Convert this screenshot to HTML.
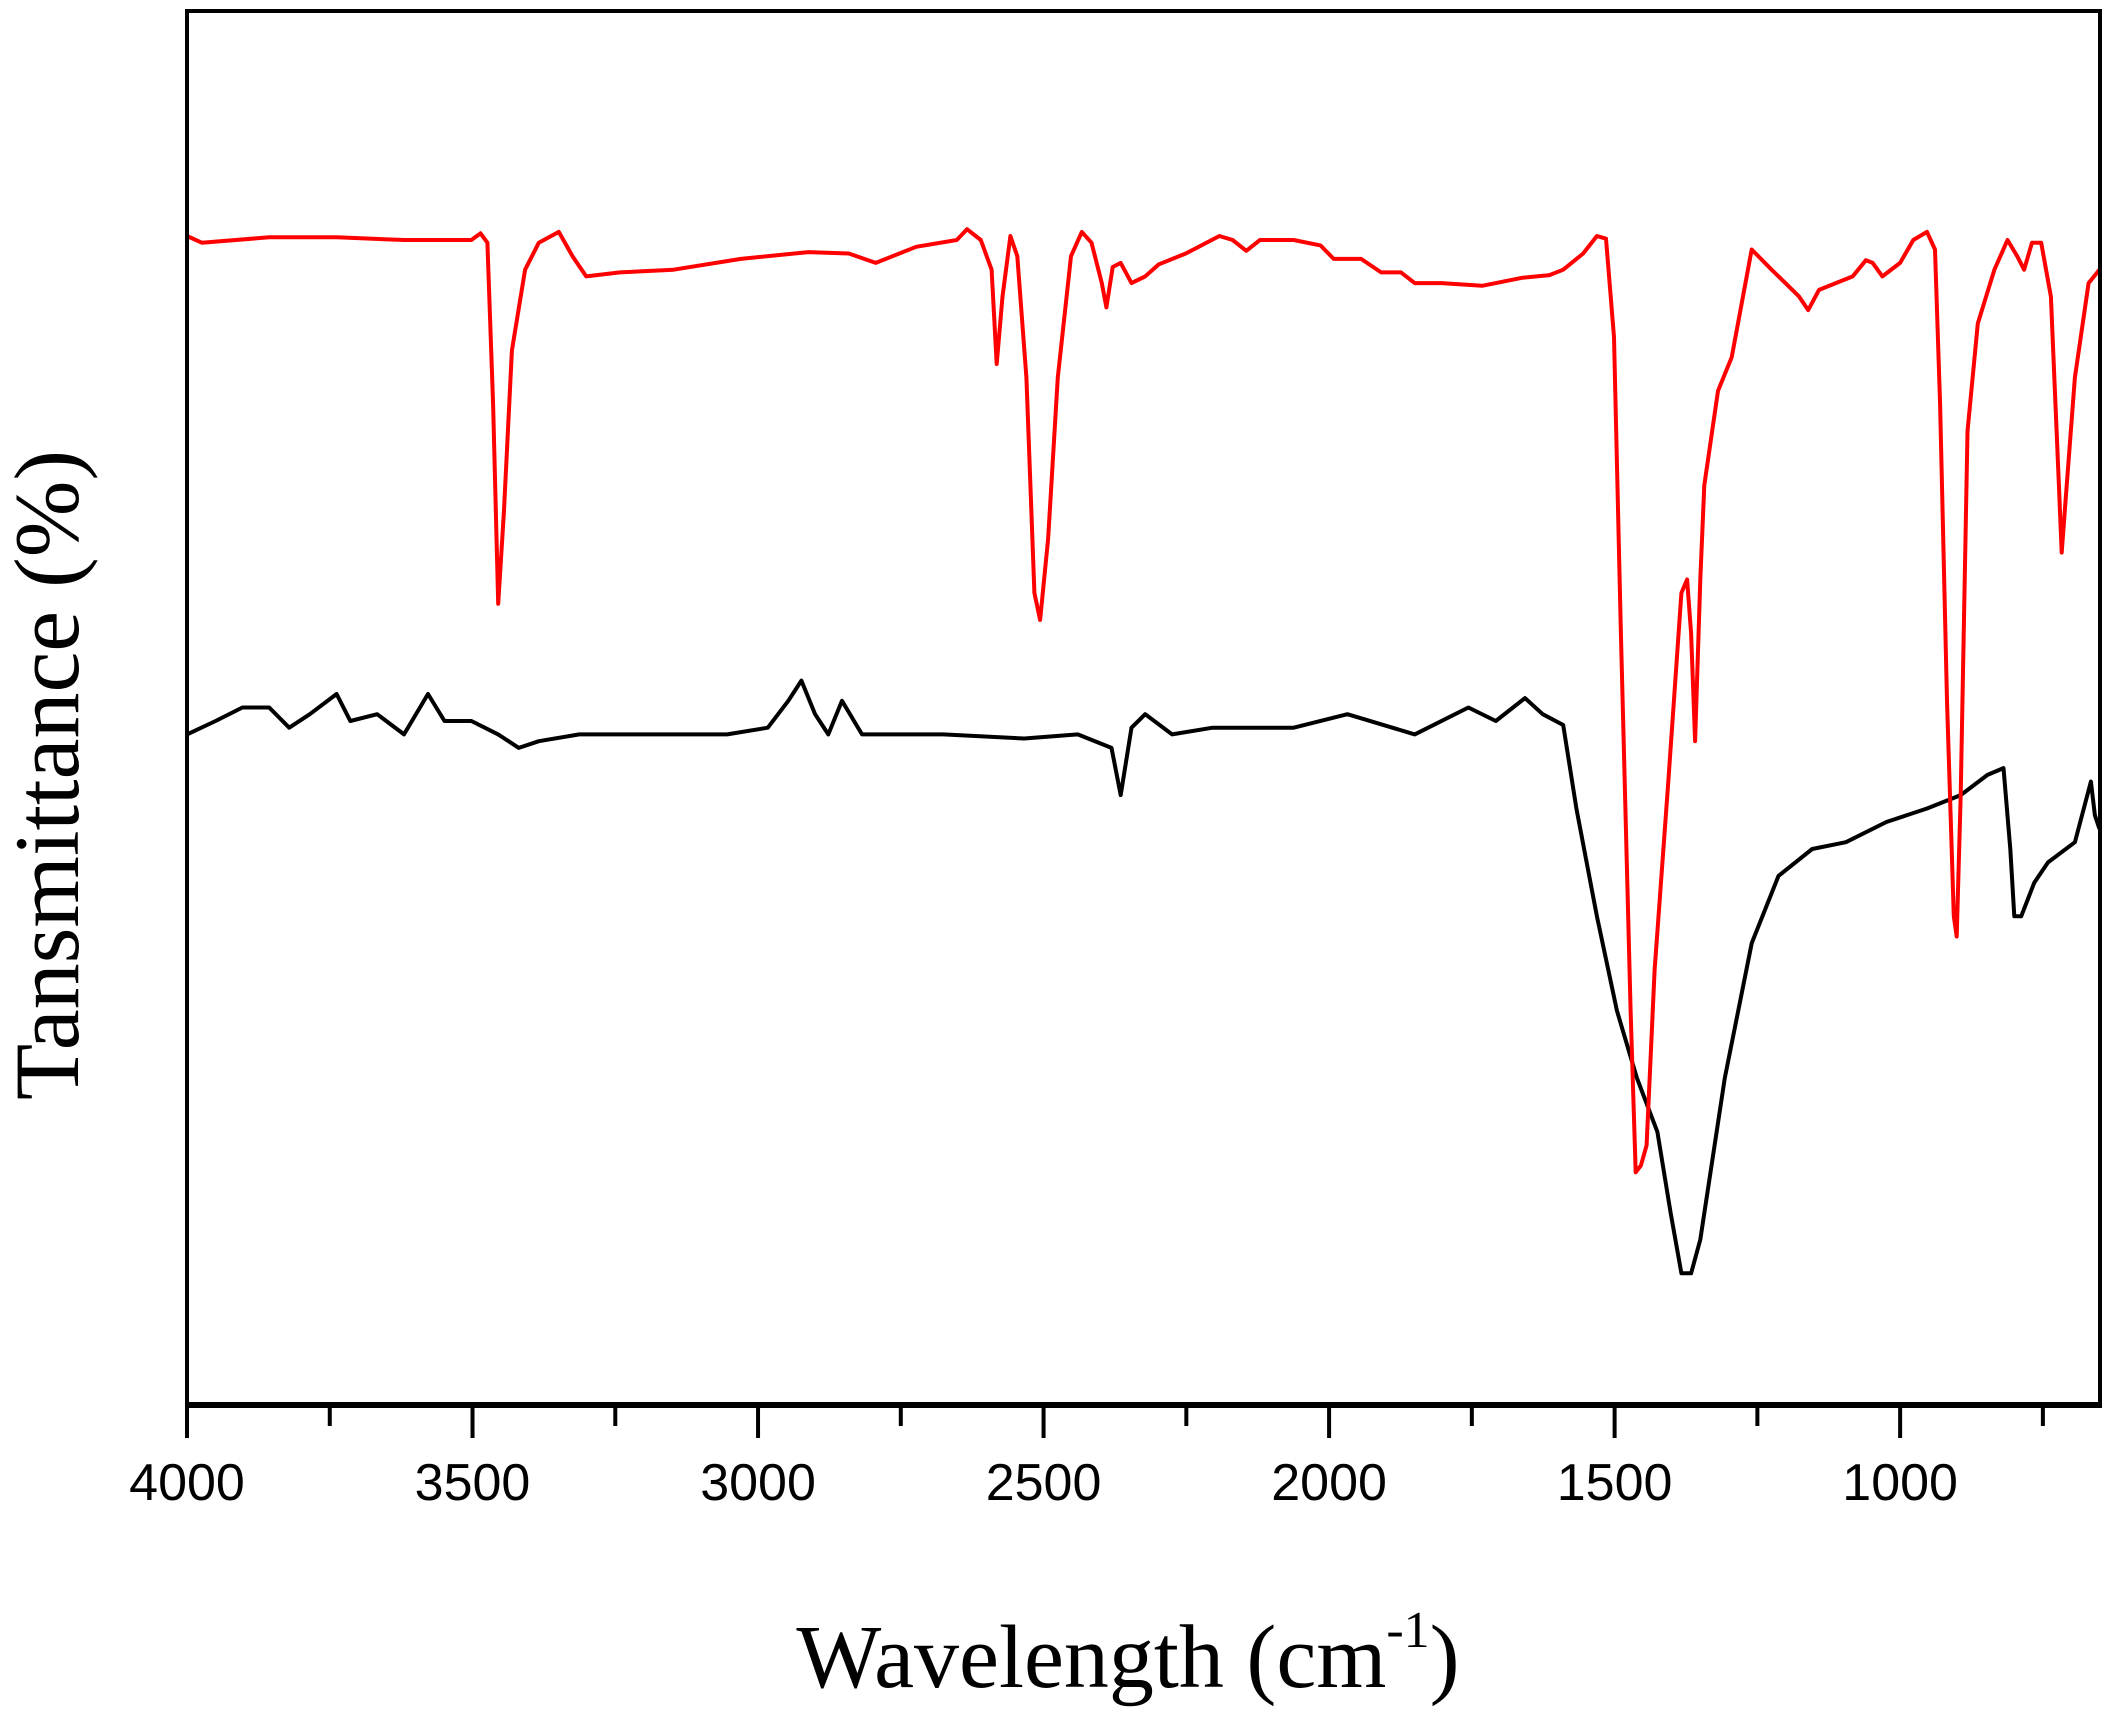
<!DOCTYPE html>
<html><head><meta charset="utf-8"><style>
html,body{margin:0;padding:0;background:#fff;}
svg{display:block;}
</style></head><body>
<svg id="chart" width="2113" height="1716" viewBox="0 0 2113 1716" xmlns="http://www.w3.org/2000/svg">
<rect x="0" y="0" width="2113" height="1716" fill="#fff"/>
<g id="series"></g>
<rect x="187" y="11" width="1913" height="1393" fill="none" stroke="#000" stroke-width="4"/>
<line x1="185" y1="1405" x2="2102" y2="1405" stroke="#000" stroke-width="6"/>
<g id="ticks"></g>
<text x="1128" y="1687" text-anchor="middle" font-family="'Liberation Serif', serif" font-size="90">Wavelength (cm<tspan font-size="52" dy="-40">-1</tspan><tspan dy="40">)</tspan></text>
<text transform="translate(78,775) rotate(-90)" text-anchor="middle" font-family="'Liberation Serif', serif" font-size="92">Tansmittance (%)</text>
</svg>
<script>
const tickValues = [4000,3500,3000,2500,2000,1500,1000];
const minorTicks = [3750,3250,2750,2250,1750,1250,750];
const redWn = [4000,3974,3856,3738,3620,3502,3486,3474,3464,3455,3445,3431,3408,3384,3349,3325,3301,3242,3148,3030,2912,2841,2794,2723,2652,2634,2610,2591,2582,2572,2558,2546,2530,2516,2506,2492,2475,2452,2433,2416,2398,2390,2379,2365,2346,2322,2298,2251,2192,2169,2145,2121,2062,2015,1992,1944,1909,1874,1850,1803,1732,1661,1614,1590,1555,1531,1515,1501,1489,1472,1463,1454,1444,1430,1406,1383,1373,1366,1359,1350,1343,1319,1295,1260,1225,1201,1177,1161,1142,1083,1060,1048,1031,1000,977,953,939,930,918,906,901,894,882,864,835,812,795,783,769,753,736,722,717,710,694,670,651];
const redT = [867,862,866,866,864,864,869,862,742,594,662,782,842,862,870,852,837,840,842,850,855,854,847,859,864,872,864,842,772,822,867,852,762,602,582,642,762,852,870,862,832,814,844,847,832,837,846,854,867,864,856,864,864,860,850,850,840,840,832,832,830,836,838,842,854,867,865,792,572,292,172,177,192,322,462,602,612,572,492,612,682,752,777,857,842,832,822,812,827,837,849,847,837,847,864,870,857,742,522,362,347,452,722,802,842,864,852,842,862,862,822,682,632,672,762,832,842];
const blackWn = [4000,3950,3903,3856,3821,3785,3738,3714,3667,3620,3578,3549,3502,3455,3419,3384,3313,3242,3148,3054,2983,2947,2924,2900,2877,2853,2818,2676,2534,2440,2381,2365,2346,2322,2275,2204,2133,2062,1968,1850,1756,1708,1657,1626,1590,1567,1531,1496,1461,1425,1402,1383,1366,1350,1307,1260,1213,1154,1095,1024,953,894,847,819,807,800,788,765,741,694,666,659,651];
const blackT = [497,507,517,517,502,512,527,507,512,497,527,507,507,497,487,492,497,497,497,497,502,522,537,512,497,522,497,497,494,497,487,452,502,512,497,502,502,502,512,497,517,507,524,512,504,442,362,292,242,202,142,97,97,122,242,342,392,412,417,432,442,452,467,472,412,362,362,387,402,417,462,437,427];

const X0=187, X1=2100, WN0=4000, WN1=650, Y0=1404, Y1=11, T0=0, T1=1034;
function xs(w){return X0+(WN0-w)*(X1-X0)/(WN0-WN1);}
function ys(t){return Y0-(t-T0)*(Y0-Y1)/(T1-T0);}
const NS='http://www.w3.org/2000/svg';
const sg=document.getElementById('series');
function drawSeries(wn,t,color,name){
  const p=document.createElementNS(NS,'polyline');
  p.setAttribute('points',wn.map((w,i)=>xs(w).toFixed(1)+','+ys(t[i]).toFixed(1)).join(' '));
  p.setAttribute('fill','none');p.setAttribute('stroke',color);p.setAttribute('stroke-width','4');
  p.setAttribute('stroke-linejoin','round');
  
  
  sg.appendChild(p);
}
drawSeries(blackWn,blackT,'#000','black-spectrum-line');
drawSeries(redWn,redT,'#f00','red-spectrum-line');
const tg=document.getElementById('ticks');
tickValues.forEach(v=>{
  const l=document.createElementNS(NS,'line');
  l.setAttribute('x1',xs(v));l.setAttribute('x2',xs(v));l.setAttribute('y1',1405);l.setAttribute('y2',1438);
  l.setAttribute('stroke','#000');l.setAttribute('stroke-width','4');
  
  
  tg.appendChild(l);
  const tx=document.createElementNS(NS,'text');
  tx.setAttribute('x',xs(v));tx.setAttribute('y',1500);tx.setAttribute('text-anchor','middle');
  tx.setAttribute('font-family',"'Liberation Sans', sans-serif");tx.setAttribute('font-size','52');
  tx.textContent=v;
  
  
  tg.appendChild(tx);
});
minorTicks.forEach(v=>{
  const l=document.createElementNS(NS,'line');
  l.setAttribute('x1',xs(v));l.setAttribute('x2',xs(v));l.setAttribute('y1',1405);l.setAttribute('y2',1426);
  l.setAttribute('stroke','#000');l.setAttribute('stroke-width','4');
  
  
  tg.appendChild(l);
});
</script>
</body></html>
